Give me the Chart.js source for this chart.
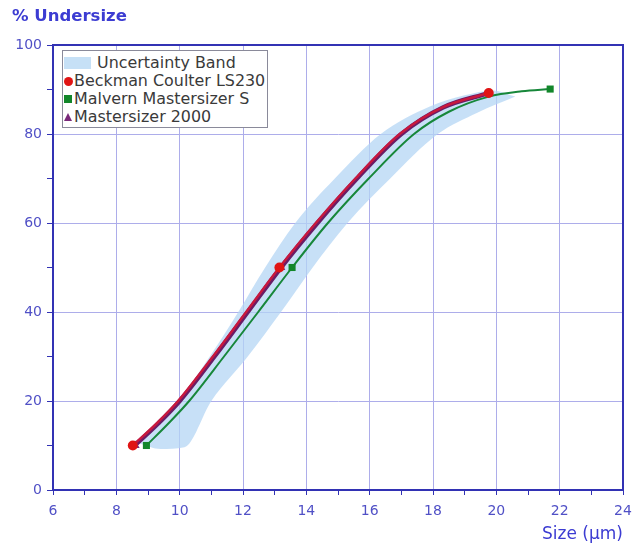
<!DOCTYPE html>
<html>
<head>
<meta charset="utf-8">
<script src="https://cdn.jsdelivr.net/npm/chart.js@4/dist/chart.umd.min.js"></script>
<style>
  body { margin: 0; background: #fff; }
  #wrap { position: relative; width: 640px; height: 548px; }
  #ytitle {
    position: absolute; left: 12px; top: 6px;
    font: bold 16.5px 'DejaVu Sans', sans-serif; color: #3c3cd2;
  }
  #legend {
    position: absolute; left: 62px; top: 50px; width: 206px; height: 78px;
    border: 1px solid #8a8a9a; background: #fff; box-sizing: border-box;
    font: 15px 'DejaVu Sans', sans-serif; color: #3a3a3a;
  }
  .row { position: absolute; left: 0; height: 18px; line-height: 18px; white-space: nowrap; }
  .sw { position: absolute; }
  .tx { position: absolute; transform: scaleX(1.06); transform-origin: 0 50%; }
</style>
</head>
<body>
<div id="wrap">
  <canvas id="c" width="640" height="548"></canvas>
  <div id="ytitle">% Undersize</div>
  <div id="legend">
    <div class="row" style="top:3px"><span class="sw" style="left:1px;top:3px;width:27px;height:12px;background:#c6e0f6"></span><span class="tx" style="left:34px">Uncertainty Band</span></div>
    <div class="row" style="top:21px"><span class="sw" style="left:1px;top:5px;width:9px;height:9px;border-radius:50%;background:#e01414"></span><span class="tx" style="left:11px">Beckman Coulter LS230</span></div>
    <div class="row" style="top:39px"><span class="sw" style="left:1px;top:5px;width:8px;height:8px;background:#12862a"></span><span class="tx" style="left:11px">Malvern Mastersizer S</span></div>
    <div class="row" style="top:57px"><span class="sw" style="left:1px;top:5px;width:0;height:0;border-left:4px solid transparent;border-right:4px solid transparent;border-bottom:8px solid #7a2a7a"></span><span class="tx" style="left:11px">Mastersizer 2000</span></div>
  </div>
</div>
<script>
// uncertainty band edges
const bandUpperX = [8.7, 9.3, 9.95, 10.95, 11.85, 12.7, 13.65, 14.9, 16.35, 17.9, 19.0, 19.9, 20.6];
const bandUpperY = [10.5, 15, 20, 30, 40, 50, 60, 70, 80, 86.2, 88.7, 89.8, 88.4];
const bandLowerX = [8.7, 9.4, 10.15, 11.0, 12.15, 13.2, 14.2, 15.3, 16.65, 18.15, 19.4, 20.6];
const bandLowerY = [10.5, 9.2, 9.6, 20, 30, 40, 50, 60, 70, 80, 84.8, 88.4];

// fitted curves
const beckmanCurveX = [8.52, 9.28, 9.95, 11.05, 12.1, 13.15, 14.3, 15.55, 16.95, 18.3, 19.76];
const beckmanCurveY = [10, 15, 20, 30, 40, 50, 60, 70, 80, 86, 89.2];
const ms2000CurveX = [8.58, 9.33, 10.0, 11.1, 12.15, 13.2, 14.35, 15.6, 17.0, 18.33, 19.76];
const ms2000CurveY = [10, 15, 20, 30, 40, 50, 60, 70, 80, 86, 89.2];
const malvernCurveX = [8.95, 9.65, 10.3, 11.4, 12.48, 13.55, 14.68, 15.97, 17.4, 18.5, 19.76, 20.8, 21.7];
const malvernCurveY = [10, 15, 20, 30, 40, 50, 60, 70, 80, 85, 88.4, 89.6, 90.1];

// measured points (d10, d50, d90)
const beckmanPtsX = [8.52, 13.15, 19.76];
const beckmanPtsY = [10, 50, 89.2];
const malvernPtsX = [8.95, 13.55, 21.7];
const malvernPtsY = [10, 50, 90.1];
const ms2000PtsX = [8.6, 13.2, 19.76];
const ms2000PtsY = [10, 50, 89.2];

const xMin = 6, xMax = 24, yMin = 0, yMax = 100;

const AXIS = '#3232b4';
const GRID = '#adadea';
const TICKTXT = '#5050c6';

const pts = (xs, ys) => xs.map((x, i) => ({ x, y: ys[i] }));

const curve = (data, color, width) => ({
    data, borderColor: color, borderWidth: width, pointRadius: 0,
    cubicInterpolationMode: 'monotone', fill: false,
});
const marks = (data, color, style, r) => ({
    data, showLine: false, pointStyle: style, pointRadius: r,
    pointBackgroundColor: color, pointBorderColor: color, borderWidth: 0,
});

// top/right frame of the plot box
const framePlugin = {
    id: 'frame',
    afterDraw(chart) {
        const { ctx, chartArea: a } = chart;
        ctx.save();
        ctx.strokeStyle = AXIS;
        ctx.lineWidth = 2;
        ctx.beginPath();
        ctx.moveTo(a.left, a.top);
        ctx.lineTo(a.right, a.top);
        ctx.lineTo(a.right, a.bottom);
        ctx.stroke();
        ctx.restore();
    },
};

// chart.js paints dataset 0 last, so markers first and the band at the end
new Chart(document.getElementById('c'), {
    type: 'line',
    data: {
        datasets: [
            marks(pts(beckmanPtsX, beckmanPtsY), '#e01414', 'circle', 5),
            marks(pts(ms2000PtsX, ms2000PtsY), '#7a2a7a', 'triangle', 5),
            marks(pts(malvernPtsX, malvernPtsY), '#12862a', 'rect', 5),
            curve(pts(beckmanCurveX, beckmanCurveY), '#c8183e', 2.5),
            curve(pts(ms2000CurveX, ms2000CurveY), '#6a1c66', 4.5),
            curve(pts(malvernCurveX, malvernCurveY), '#17873a', 2),
            { data: pts(bandUpperX, bandUpperY), borderWidth: 0, pointRadius: 0,
              cubicInterpolationMode: 'monotone', fill: false, borderColor: 'transparent' },
            { data: pts(bandLowerX, bandLowerY), borderWidth: 0, pointRadius: 0,
              cubicInterpolationMode: 'monotone', fill: '-1', borderColor: 'transparent',
              backgroundColor: 'rgba(180,214,244,0.75)' },
        ],
    },
    options: {
        responsive: false,
        animation: false,
        layout: { padding: { top: 45, right: 17, left: 0, bottom: 0 } },
        plugins: { legend: { display: false }, tooltip: { enabled: false } },
        scales: {
            x: {
                type: 'linear', min: xMin, max: xMax,
                afterFit: (s) => { s.height = 58; },
                border: { color: AXIS, width: 2 },
                grid: {
                    color: (c) => (c.tick && c.tick.value % 2 === 0 ? GRID : 'transparent'),
                    tickColor: AXIS, tickLength: 5,
                },
                ticks: {
                    stepSize: 1, autoSkip: false, maxRotation: 0, padding: 8,
                    color: TICKTXT, font: { family: "'DejaVu Sans', sans-serif", size: 14 },
                    callback: (v) => (v % 2 === 0 ? v : ''),
                },
                title: {
                    display: true, text: 'Size (µm)', align: 'end',
                    color: '#3c3cd2', font: { family: "'DejaVu Sans', sans-serif", size: 17 },
                    padding: { top: 0, bottom: 3 },
                },
            },
            y: {
                min: yMin, max: yMax,
                afterFit: (s) => { s.width = 53; },
                border: { color: AXIS, width: 2 },
                grid: {
                    color: (c) => (c.tick && c.tick.value % 20 === 0 ? GRID : 'transparent'),
                    tickColor: AXIS, tickLength: 6,
                },
                ticks: {
                    stepSize: 10, padding: 5,
                    color: TICKTXT, font: { family: "'DejaVu Sans', sans-serif", size: 14 },
                    callback: (v) => (v % 20 === 0 ? v : ''),
                },
            },
        },
    },
    plugins: [framePlugin],
});
</script>
</body>
</html>
